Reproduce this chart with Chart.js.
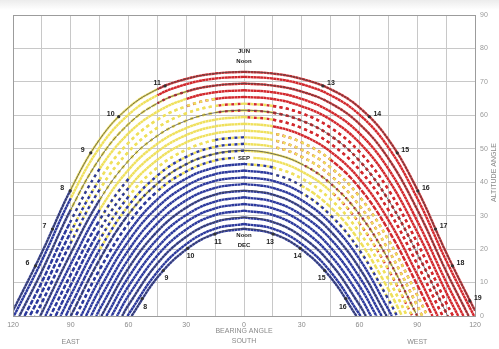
<!DOCTYPE html>
<html>
<head>
<meta charset="utf-8">
<script src="https://cdn.jsdelivr.net/npm/chart.js@4.4.1/dist/chart.umd.min.js"></script>
<style>
  html, body { margin: 0; padding: 0; background: #fff; }
</style>
</head>
<body>
<canvas id="sunpath" width="499" height="349"></canvas>
<script>
// bearing angle (deg from south, east negative) at which each path altitude is read
const bearings = [-120, -105, -90, -75, -60, -45, -30, -15, 0, 15, 30, 45, 60, 75, 90, 105, 120];

// day paths from the December solstice (row 0) to the June solstice (last row)
// bearing where each path meets the horizon (sunrise east / sunset west)
const horizonBearing = [58.4, 60.5, 63.3, 66.0, 68.8, 71.5, 74.1, 76.8, 79.5, 82.1, 84.7, 87.4, 90,
  92.6, 95.3, 97.9, 100.6, 103.2, 105.9, 108.6, 111.3, 114.0, 116.7, 119.5, 121.6];

// altitude angle of each path at the bearings above (null = sun below horizon)
const altitudes = [
  [null, null, null, null, null, 11.5, 19.9, 24.6, 26.1, 24.6, 19.9, 11.5, null, null, null, null, null],
  [null, null, null, null, 0.5, 13.2, 21.5, 26.1, 27.5, 26.1, 21.5, 13.2, 0.5, null, null, null, null],
  [null, null, null, null, 3.3, 15.7, 23.7, 28.1, 29.5, 28.1, 23.7, 15.7, 3.3, null, null, null, null],
  [null, null, null, null, 6.1, 18.1, 25.9, 30.2, 31.5, 30.2, 25.9, 18.1, 6.1, null, null, null, null],
  [null, null, null, null, 8.9, 20.5, 28.1, 32.2, 33.5, 32.2, 28.1, 20.5, 8.9, null, null, null, null],
  [null, null, null, null, 11.6, 23.0, 30.2, 34.2, 35.5, 34.2, 30.2, 23.0, 11.6, null, null, null, null],
  [null, null, null, null, 14.3, 25.3, 32.4, 36.3, 37.5, 36.3, 32.4, 25.3, 14.3, null, null, null, null],
  [null, null, null, 2.0, 17.0, 27.7, 34.6, 38.3, 39.5, 38.3, 34.6, 27.7, 17.0, 2.0, null, null, null],
  [null, null, null, 5.0, 19.7, 30.1, 36.8, 40.4, 41.5, 40.4, 36.8, 30.1, 19.7, 5.0, null, null, null],
  [null, null, null, 8.0, 22.4, 32.5, 38.9, 42.4, 43.5, 42.4, 38.9, 32.5, 22.4, 8.0, null, null, null],
  [null, null, null, 11.0, 25.0, 34.9, 41.1, 44.4, 45.5, 44.4, 41.1, 34.9, 25.0, 11.0, null, null, null],
  [null, null, null, 13.9, 27.7, 37.3, 43.2, 46.5, 47.5, 46.5, 43.2, 37.3, 27.7, 13.9, null, null, null],
  [null, null, null, 16.9, 30.4, 39.6, 45.4, 48.5, 49.5, 48.5, 45.4, 39.6, 30.4, 16.9, null, null, null],
  [null, null, 3.1, 19.8, 33.0, 42.0, 47.6, 50.6, 51.5, 50.6, 47.6, 42.0, 33.0, 19.8, 3.1, null, null],
  [null, null, 6.2, 22.8, 35.7, 44.4, 49.7, 52.6, 53.5, 52.6, 49.7, 44.4, 35.7, 22.8, 6.2, null, null],
  [null, null, 9.3, 25.7, 38.3, 46.7, 51.9, 54.6, 55.5, 54.6, 51.9, 46.7, 38.3, 25.7, 9.3, null, null],
  [null, null, 12.4, 28.7, 41.0, 49.1, 54.1, 56.7, 57.5, 56.7, 54.1, 49.1, 41.0, 28.7, 12.4, null, null],
  [null, null, 15.5, 31.7, 43.7, 51.5, 56.2, 58.7, 59.5, 58.7, 56.2, 51.5, 43.7, 31.7, 15.5, null, null],
  [null, 1.0, 18.7, 34.7, 46.4, 53.9, 58.4, 60.8, 61.5, 60.8, 58.4, 53.9, 46.4, 34.7, 18.7, 1.0, null],
  [null, 4.0, 21.9, 37.8, 49.1, 56.3, 60.6, 62.8, 63.5, 62.8, 60.6, 56.3, 49.1, 37.8, 21.9, 4.0, null],
  [null, 7.1, 25.1, 40.8, 51.8, 58.7, 62.7, 64.9, 65.5, 64.9, 62.7, 58.7, 51.8, 40.8, 25.1, 7.1, null],
  [null, 10.2, 28.4, 44.0, 54.6, 61.1, 64.9, 66.9, 67.5, 66.9, 64.9, 61.1, 54.6, 44.0, 28.4, 10.2, null],
  [null, 13.4, 31.8, 47.1, 57.4, 63.6, 67.1, 68.9, 69.5, 68.9, 67.1, 63.6, 57.4, 47.1, 31.8, 13.4, null],
  [null, 16.6, 35.2, 50.4, 60.2, 66.0, 69.3, 71.0, 71.5, 71.0, 69.3, 66.0, 60.2, 50.4, 35.2, 16.6, null],
  [1.6, 19.0, 37.8, 52.8, 62.3, 67.8, 70.9, 72.5, 73.0, 72.5, 70.9, 67.8, 62.3, 52.8, 37.8, 19.0, 1.6]
];

// temperature class along each path, one letter per 15 deg bearing band (-120..120)
// B = cold, Y = mild, R = hot; first half of the year and second half
const springBands = [
  'BBBBBBBBBBBBBBBB',
  'BBBBBBBBBBBBBBBB',
  'BBBBBBBBBBBBBBBB',
  'BBBBBBBBBBBBBBBB',
  'BBBBBBBBBBBBBBBB',
  'BBBBBBBBBBBBBBBB',
  'BBBBBBBBBBBBBBBB',
  'BBBBBBBBBBBBBBBB',
  'BBBBBBBBBBBBBBBB',
  'BBBBBBBBBBYYYYBB',
  'BBBBBBBBBYYYYYBB',
  'BBBBBBBBYYYYYYBB',
  'BBBBBBBBYYYYYYYB',
  'BBBBBBBBYYYYYYYB',
  'BBBBYYYBYYYYYYYY',
  'BBBBYYYYYYYRRRRR',
  'BBBBYYYYYRRRRRRR',
  'BBBYYYYYYRRRRRRR',
  'BBBYYYYYYRRRRRRR',
  'BBBYYYYYYRRRRRRR',
  'BBBYYYYRRRRRRRRR',
  'BBBYYYRRRRRRRRRR',
  'BBYYYYRRRRRRRRRR',
  'BBYYYRRRRRRRRRRR',
  'BBYYYRRRRRRRRRRR'
];
const autumnBands = [
  'BBBBBBBBBBBBBBBB',
  'BBBBBBBBBBBBBBBB',
  'BBBBBBBBBBBBBBBB',
  'BBBBBBBBBBBBBBBB',
  'BBBBBBBBBBBBBBBB',
  'BBBBBBBBBBBBBBBB',
  'BBBBBBBBBBBBBBBB',
  'BBBBBBBBBBBBBBBB',
  'BBBBBBBBBBYYYYBB',
  'BBBBBBBBBYYYYYBB',
  'BBBBBBBBYYYYYYBB',
  'BBBBBYYYYYYRRRBB',
  'BBBBYYYYYYRRRRYB',
  'BBBYYYYYYRRRRRRB',
  'BBBYYYYYYRRRRRRR',
  'BBBYYYYYYRRRRRRR',
  'BBBYYYYYYRRRRRRR',
  'BBBYYYYYRRRRRRRR',
  'BBBYYYYRRRRRRRRR',
  'BBYYYYYRRRRRRRRR',
  'BBYYYYRRRRRRRRRR',
  'BBYYYYRRRRRRRRRR',
  'BBYYYRRRRRRRRRRR',
  'BBYYYRRRRRRRRRRR',
  'BBYYYRRRRRRRRRRR'
];

// paths drawn as the grey monthly arcs (Dec, Jan/Nov, Feb/Oct, Mar/Sep, Apr/Aug, May/Jul, Jun)
const monthArcRows = [0, 2, 6, 12, 18, 22, 24];

// hour marks on the June and December arcs
const junHours = [6, 7, 8, 9, 10, 11, 13, 14, 15, 16, 17, 18, 19];
const junHourBearing = [-108.3, -99.5, -90.3, -79.6, -65.1, -41.0, 41.0, 65.1, 79.6, 90.3, 99.5, 108.3, 117.3];
const junHourAltitude = [15.0, 26.0, 37.4, 48.8, 59.6, 68.8, 68.8, 59.6, 48.8, 37.4, 26.0, 15.0, 4.5];
const decHours = [8, 9, 10, 11, 13, 14, 15, 16];
const decHourBearing = [-52.9, -41.9, -29.3, -15.1, 15.1, 29.3, 41.9, 52.9];
const decHourAltitude = [5.2, 13.6, 20.2, 24.5, 24.5, 20.2, 13.6, 5.2];

const COLORS = { B: '#2c399c', Y: '#efe05c', R: '#d2282d' };
const FONT = '"Liberation Sans", Arial, sans-serif';

// one half of a path, running from noon out to the horizon
function halfPath(row, side) {
  const pts = [];
  const alts = altitudes[row];
  for (let i = bearings.indexOf(0); i >= 0 && i < bearings.length; i += side) {
    if (alts[i] === null) break;
    pts.push({ x: bearings[i], y: alts[i] });
  }
  pts.push({ x: side * horizonBearing[row], y: 0 });
  return pts;
}

function bandColor(ctx) {
  const ds = ctx.chart.data.datasets[ctx.datasetIndex];
  const xs = ctx.chart.scales.x;
  const mid = xs.getValueForPixel((ctx.p0.x + ctx.p1.x) / 2);
  const k = Math.max(0, Math.min(15, Math.floor((mid + 120) / 15)));
  return COLORS[ds.bands[k]];
}

const datasets = [];
altitudes.forEach((_, row) => {
  [-1, 1].forEach(side => {
    [[springBands, 0], [autumnBands, 3.25]].forEach(([bands, offset]) => {
      datasets.push({
        data: halfPath(row, side),
        bands: bands[row],
        showLine: true,
        borderColor: COLORS.B,
        borderWidth: 2.4,
        borderDash: [3, 3.5],
        borderDashOffset: offset,
        borderCapStyle: 'butt',
        segment: { borderColor: bandColor },
        pointRadius: 0,
        tension: 0.4,
        order: 3
      });
    });
  });
});

monthArcRows.forEach(row => {
  const east = halfPath(row, -1).reverse();
  const west = halfPath(row, 1).slice(1);
  datasets.push({
    data: east.concat(west),
    showLine: true,
    borderColor: 'rgba(70,70,70,0.75)',
    borderWidth: 1,
    pointRadius: 0,
    tension: 0.4,
    order: 2
  });
});

datasets.push({
  data: junHourBearing.map((b, i) => ({ x: b, y: junHourAltitude[i] }))
    .concat(decHourBearing.map((b, i) => ({ x: b, y: decHourAltitude[i] }))),
  showLine: false,
  pointRadius: 1.6,
  pointBackgroundColor: '#333',
  pointBorderWidth: 0,
  order: 1
});

const overlay = {
  id: 'overlay',
  beforeDraw(chart) {
    const { ctx, width, height } = chart;
    ctx.save();
    ctx.fillStyle = '#ffffff';
    ctx.fillRect(0, 0, width, height);
    const g = ctx.createLinearGradient(0, 0, 0, 10);
    g.addColorStop(0, '#ececec');
    g.addColorStop(1, '#ffffff');
    ctx.fillStyle = g;
    ctx.fillRect(0, 0, width, 10);
    ctx.restore();
  },
  afterDatasetsDraw(chart) {
    const { ctx, chartArea: a, scales: { x, y } } = chart;
    ctx.save();
    ctx.strokeStyle = '#9c9c9c';
    ctx.lineWidth = 1;
    ctx.strokeRect(a.left + 0.5, a.top + 0.5, a.right - a.left, a.bottom - a.top);

    ctx.textAlign = 'center';
    ctx.textBaseline = 'middle';
    ctx.fillStyle = '#1c1c1c';
    ctx.font = 'bold 7px ' + FONT;
    junHours.forEach((h, i) => {
      const px = x.getPixelForValue(junHourBearing[i]) + Math.sign(junHourBearing[i]) * 8;
      const py = y.getPixelForValue(junHourAltitude[i]) - 3;
      ctx.fillText(String(h), px, py);
    });
    decHours.forEach((h, i) => {
      const px = x.getPixelForValue(decHourBearing[i]) - Math.sign(decHourBearing[i]) * 3;
      const py = y.getPixelForValue(decHourAltitude[i]) + 8;
      ctx.fillText(String(h), px, py);
    });

    const cx = x.getPixelForValue(0);
    ctx.font = 'bold 6px ' + FONT;
    ctx.fillText('JUN', cx, y.getPixelForValue(79));
    ctx.fillText('Noon', cx, y.getPixelForValue(76));
    const sy = y.getPixelForValue(47.2);
    ctx.fillStyle = '#ffffff';
    ctx.fillRect(cx - 9, sy - 4, 18, 8);
    ctx.fillStyle = '#1c1c1c';
    ctx.fillText('SEP', cx, sy);
    ctx.fillText('Noon', cx, y.getPixelForValue(24.0));
    ctx.fillText('DEC', cx, y.getPixelForValue(21.0));

    ctx.font = '7px ' + FONT;
    ctx.fillStyle = '#8a8a8a';
    ctx.fillText('BEARING ANGLE', cx, a.bottom + 15);
    ctx.fillText('SOUTH', cx, a.bottom + 25);
    ctx.fillText('EAST', x.getPixelForValue(-90), a.bottom + 26);
    ctx.fillText('WEST', x.getPixelForValue(90), a.bottom + 26);

    ctx.translate(494, (a.top + a.bottom) / 2 + 7);
    ctx.rotate(-Math.PI / 2);
    ctx.fillText('ALTITUDE ANGLE', 0, 0);
    ctx.restore();
  }
};

new Chart(document.getElementById('sunpath'), {
  type: 'scatter',
  data: { datasets },
  plugins: [overlay],
  options: {
    responsive: false,
    animation: false,
    devicePixelRatio: 1,
    layout: { padding: { left: 13, top: 15, right: 0, bottom: 0 } },
    plugins: { legend: { display: false }, tooltip: { enabled: false } },
    scales: {
      x: {
        type: 'linear',
        min: -120,
        max: 120,
        afterFit: s => { s.height = 33; },
        ticks: {
          stepSize: 15,
          autoSkip: false,
          maxRotation: 0,
          padding: 5,
          color: '#8a8a8a',
          font: { size: 7, family: FONT },
          callback: v => (v % 30 === 0 ? String(Math.abs(v)) : '')
        },
        grid: { color: '#c8c8c8', lineWidth: 1, drawTicks: false },
        border: { color: '#9c9c9c' }
      },
      y: {
        position: 'right',
        min: 0,
        max: 90,
        afterFit: s => { s.width = 24; },
        ticks: {
          stepSize: 10,
          padding: 5,
          color: '#9a9a9a',
          font: { size: 7, family: FONT }
        },
        grid: { color: '#c8c8c8', lineWidth: 1, drawTicks: false },
        border: { color: '#9c9c9c' }
      }
    }
  }
});
</script>
</body>
</html>
